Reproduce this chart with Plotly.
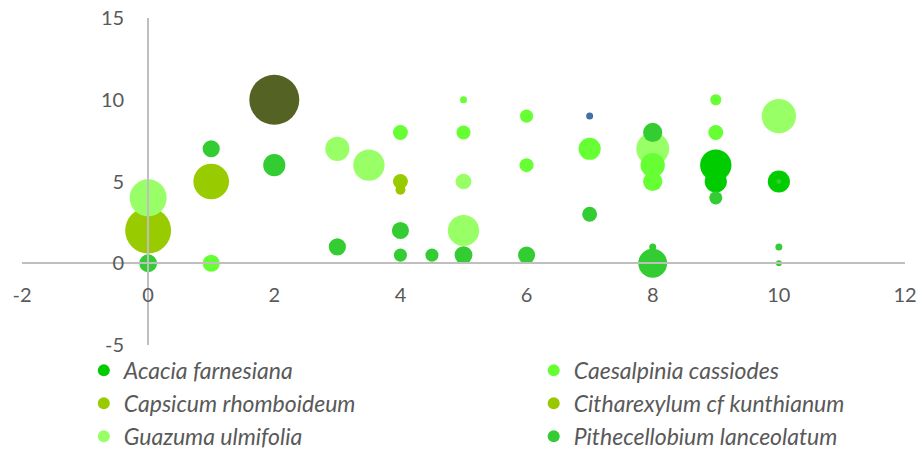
import plotly.graph_objects as go

# ---------------- data ----------------
acacia_x = [9, 9, 10]
acacia_y = [6, 5, 5]
acacia_s = [20, 10, 10]

capsicum_x = [0, 1, 4]
capsicum_y = [2, 5, 5]
capsicum_s = [43, 26, 4.5]

guazuma_x = [0, 3, 3.5, 5, 5, 8, 10]
guazuma_y = [4, 7, 6, 5, 2, 7, 9]
guazuma_s = [28, 12, 20, 5, 20, 22, 24]

caesalpinia_x = [1, 4, 5, 5, 6, 6, 7, 8, 8, 9, 9]
caesalpinia_y = [0, 8, 10, 8, 9, 6, 7, 6, 5, 10, 8]
caesalpinia_s = [6, 4.5, 1, 4, 3.5, 4, 10, 12, 7.5, 2.5, 4.5]

citharexylum_x = [4]
citharexylum_y = [4.5]
citharexylum_s = [2]

pith_x = [0, 1, 2, 3, 4, 4, 4.5, 5, 6, 7, 8, 8, 8, 9, 10, 10, 10]
pith_y = [0, 7, 6, 1, 2, 0.5, 0.5, 0.5, 0.5, 3, 8, 1, 0, 4, 1, 0, 5]
pith_s = [6.5, 6, 10, 6, 6, 3.5, 3.5, 6.5, 6, 4.5, 7.5, 1, 17, 3.5, 1, 0.7, 0.5]

other1_x = [2]
other1_y = [10]
other1_s = [51]

other2_x = [7]
other2_y = [9]
other2_s = [1]

series = [
    ("Acacia farnesiana", acacia_x, acacia_y, acacia_s, "#00CC00", "legend"),
    ("Capsicum rhomboideum", capsicum_x, capsicum_y, capsicum_s, "#99CC00", "legend"),
    ("Guazuma ulmifolia", guazuma_x, guazuma_y, guazuma_s, "#99FF66", "legend"),
    ("Caesalpinia cassiodes", caesalpinia_x, caesalpinia_y, caesalpinia_s, "#66FF33", "legend2"),
    ("Citharexylum cf kunthianum", citharexylum_x, citharexylum_y, citharexylum_s, "#99C800", "legend2"),
    ("Pithecellobium lanceolatum", pith_x, pith_y, pith_s, "#33CC33", "legend2"),
    ("Otra especie 1", other1_x, other1_y, other1_s, "#546323", None),
    ("Otra especie 2", other2_x, other2_y, other2_s, "#44709F", None),
]

x_ticks = [-2, 0, 2, 4, 6, 8, 10, 12]
y_ticks = [-5, 0, 5, 10, 15]

max_s = max(max(s[3]) for s in series)
sizeref = 2.0 * max_s / (50 ** 2)

fig = go.Figure()
for name, xs, ys, ss, col, leg in series:
    kw = {}
    if leg is None:
        kw["showlegend"] = False
    else:
        kw["legend"] = leg
        kw["legendgroup"] = name
    fig.add_trace(go.Scatter(
        x=xs, y=ys, mode="markers", name=name,
        marker=dict(size=ss, sizemode="area", sizeref=sizeref, color=col,
                    line=dict(width=0), opacity=1),
        **kw))

font_family = "Lato, 'Open Sans', sans-serif"
txt_col = "#595959"
leg_common = dict(
    orientation="v", yanchor="top", xanchor="left", y=-0.012,
    font=dict(family=font_family, size=23, color=txt_col, style="italic"),
    traceorder="grouped", tracegroupgap=0, bgcolor="rgba(0,0,0,0)",
    itemsizing="constant",
)

fig.update_layout(
    width=921, height=450,
    margin=dict(l=22, r=16, t=18, b=105, autoexpand=False),
    plot_bgcolor="white", paper_bgcolor="white",
    font=dict(family=font_family, size=20, color=txt_col),
    xaxis=dict(range=[-2, 12], tickvals=x_ticks, ticktext=[str(v) for v in x_ticks],
               anchor="free", position=0.25, showline=True, linecolor="#BFBFBF",
               linewidth=2, showgrid=False, zeroline=False, automargin=False,
               ticks="outside", ticklen=14, tickcolor="rgba(0,0,0,0)"),
    yaxis=dict(range=[-5, 15], tickvals=y_ticks, ticktext=[str(v) for v in y_ticks],
               anchor="free", position=2 / 14, showline=True, linecolor="#BFBFBF",
               linewidth=2, showgrid=False, zeroline=False, automargin=False,
               ticks="outside", ticklen=19, tickcolor="rgba(0,0,0,0)"),
    legend=dict(x=0.07, **leg_common),
    legend2=dict(x=0.5795, **leg_common),
    showlegend=True,
)

fig.write_html("out.html")
